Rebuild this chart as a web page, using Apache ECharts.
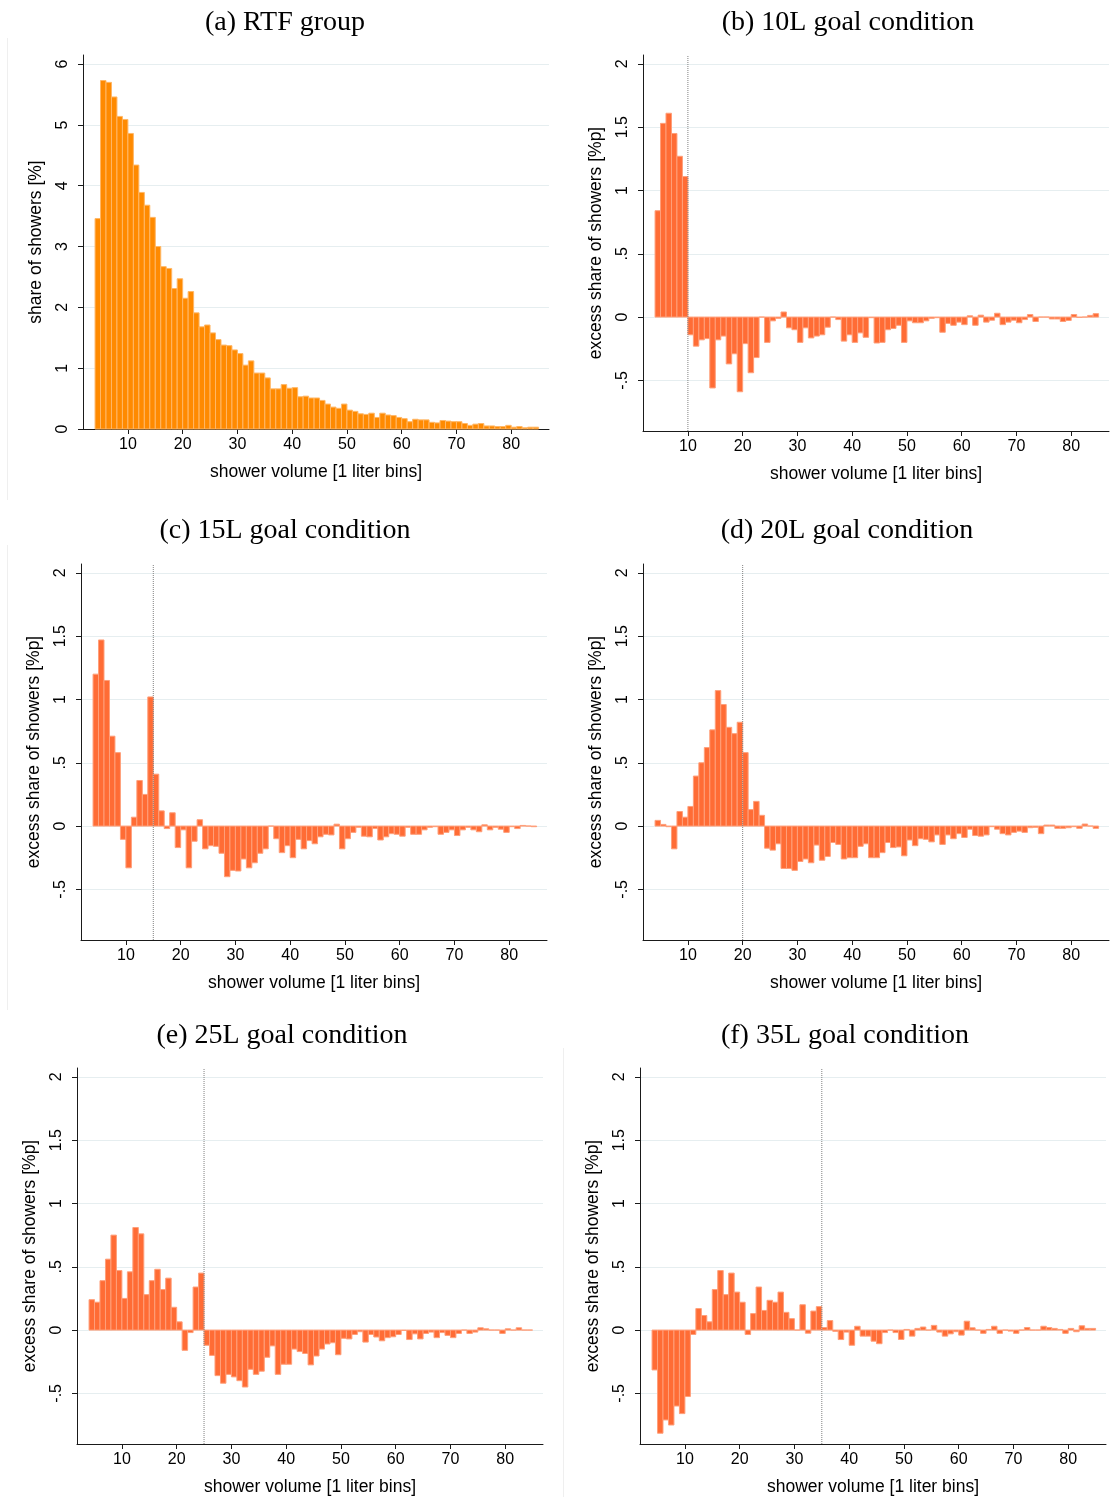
<!DOCTYPE html>
<html>
<head>
<meta charset="utf-8">
<script src="https://cdn.jsdelivr.net/npm/echarts@6/dist/echarts.min.js"></script>
<style>
html,body{margin:0;padding:0;background:#fff;}
#chart{width:1115px;height:1497px;}
</style>
</head>
<body>
<div id="chart"></div>
<script>
// shower volume bins (liters), each bar spans [bin, bin+1]
const bins = [];
for (let b = 4; b <= 84; b++) bins.push(b);

const rtfShare = [3.46,5.73,5.70,5.46,5.14,5.09,4.86,4.34,3.89,3.68,3.48,3.00,2.67,2.64,2.31,2.47,2.15,2.26,1.91,1.68,1.71,1.58,1.47,1.38,1.37,1.30,1.24,1.05,1.12,0.92,0.92,0.84,0.66,0.66,0.73,0.67,0.68,0.53,0.54,0.51,0.51,0.47,0.41,0.36,0.34,0.41,0.31,0.29,0.25,0.24,0.26,0.19,0.26,0.23,0.22,0.19,0.17,0.12,0.16,0.15,0.15,0.11,0.10,0.14,0.13,0.12,0.12,0.09,0.06,0.08,0.09,0.05,0.05,0.04,0.04,0.06,0.03,0.04,0.02,0.03,0.03];

const excess10 = [0.84,1.53,1.61,1.45,1.27,1.11,-0.14,-0.23,-0.18,-0.17,-0.56,-0.18,-0.15,-0.37,-0.29,-0.59,-0.21,-0.44,-0.32,0.0,-0.20,-0.03,-0.01,0.04,-0.085,-0.10,-0.20,-0.085,-0.165,-0.15,-0.14,-0.08,0.0,-0.02,-0.19,-0.14,-0.20,-0.125,-0.16,-0.005,-0.205,-0.20,-0.10,-0.09,-0.065,-0.20,-0.03,-0.045,-0.045,-0.03,-0.01,-0.005,-0.12,-0.05,-0.065,-0.04,-0.06,0.01,-0.065,0.015,-0.04,-0.025,0.03,-0.06,-0.04,-0.025,-0.045,-0.02,0.02,-0.035,0.0,0.0,-0.015,-0.015,-0.035,-0.027,0.02,-0.003,0.0,0.013,0.027];

const excess15 = [1.20,1.47,1.15,0.71,0.58,-0.105,-0.33,0.07,0.36,0.25,1.02,0.41,0.12,-0.02,0.105,-0.17,-0.03,-0.33,-0.12,0.05,-0.18,-0.155,-0.16,-0.215,-0.40,-0.35,-0.355,-0.26,-0.33,-0.29,-0.215,-0.18,0.0,-0.10,-0.21,-0.155,-0.25,-0.105,-0.18,-0.115,-0.14,-0.085,-0.065,-0.07,0.015,-0.18,-0.10,-0.05,-0.01,-0.08,-0.085,-0.02,-0.11,-0.085,-0.06,-0.065,-0.08,-0.01,-0.065,-0.065,-0.03,-0.01,-0.005,-0.065,-0.05,-0.03,-0.075,-0.03,-0.01,-0.03,-0.045,0.01,-0.03,-0.01,-0.025,-0.05,-0.005,-0.02,0.005,0.0,-0.005];

const excess20 = [0.045,0.013,-0.005,-0.18,0.115,0.07,0.155,0.395,0.50,0.62,0.76,1.07,0.96,0.78,0.73,0.82,0.58,0.13,0.195,0.085,-0.175,-0.19,-0.14,-0.335,-0.335,-0.35,-0.28,-0.26,-0.29,-0.15,-0.27,-0.24,-0.13,-0.145,-0.26,-0.25,-0.25,-0.16,-0.14,-0.25,-0.25,-0.21,-0.13,-0.17,-0.165,-0.235,-0.11,-0.155,-0.10,-0.105,-0.125,-0.07,-0.145,-0.07,-0.10,-0.06,-0.09,-0.025,-0.075,-0.08,-0.07,-0.005,-0.025,-0.06,-0.07,-0.05,-0.04,-0.05,-0.013,-0.01,-0.06,0.008,0.008,-0.018,-0.018,-0.013,-0.005,-0.018,0.016,0.0,-0.018];

const excess25 = [0.24,0.22,0.39,0.56,0.75,0.47,0.25,0.46,0.81,0.76,0.28,0.39,0.48,0.32,0.41,0.18,0.065,-0.16,-0.02,0.34,0.45,-0.12,-0.20,-0.36,-0.42,-0.35,-0.37,-0.40,-0.45,-0.31,-0.35,-0.325,-0.215,-0.125,-0.35,-0.27,-0.27,-0.15,-0.17,-0.185,-0.275,-0.205,-0.15,-0.11,-0.10,-0.195,-0.065,-0.07,-0.035,-0.013,-0.095,-0.035,-0.055,-0.085,-0.06,-0.053,-0.035,-0.003,-0.075,-0.03,-0.07,-0.027,-0.016,-0.06,-0.02,-0.042,-0.06,-0.027,0.0,-0.027,-0.016,0.018,0.01,0.0,0.0,-0.027,0.01,0.0,0.018,0.0,0.0];

const excess35 = [-0.315,-0.815,-0.71,-0.75,-0.60,-0.66,-0.525,-0.035,0.17,0.115,0.065,0.32,0.47,0.28,0.45,0.30,0.22,-0.035,0.13,0.34,0.155,0.235,0.22,0.30,0.14,0.09,0.0,0.20,-0.025,0.15,0.185,0.02,0.075,-0.01,-0.075,-0.016,-0.12,0.03,-0.048,-0.048,-0.088,-0.108,-0.02,0.0,-0.02,-0.074,0.005,-0.048,0.013,0.024,0.0,0.037,-0.016,-0.048,-0.03,-0.013,-0.04,0.07,0.018,0.0,-0.026,0.005,0.03,-0.026,0.0,-0.008,-0.026,0.0,0.02,0.0,0.0,0.03,0.02,0.013,0.005,-0.026,0.013,-0.013,0.034,0.013,0.013];

const panelTitles = ['(a) RTF group','(b) 10L goal condition','(c) 15L goal condition','(d) 20L goal condition','(e) 25L goal condition','(f) 35L goal condition'];
const goals = [null, 10, 15, 20, 25, 35];
const xTicks = [10,20,30,40,50,60,70,80];
const yTicksShare = [0,1,2,3,4,5,6];
const yTicksExcess = [-0.5,0,0.5,1,1.5,2];
const yTickLabelsExcess = ['-.5','0','.5','1','1.5','2'];
const xName = 'shower volume [1 liter bins]';
const yNameShare = 'share of showers [%]';
const yNameExcess = 'excess share of showers [%p]';

const panelValues = [rtfShare, excess10, excess15, excess20, excess25, excess35];

// layout
const grids = [
  {left:83, top:55, width:466, height:374},
  {left:643, top:55, width:466, height:376},
  {left:81, top:564, width:466, height:376},
  {left:643, top:564, width:466, height:376},
  {left:77, top:1068, width:466, height:376},
  {left:640, top:1068, width:466, height:376}
];
const titlePos = [[285,9],[848,9],[285,517],[847,517],[282,1022],[845,1022]];
const X_MIN = 1.8, X_MAX = 86.9;
const Y_RANGE_SHARE = [0, 6.15];
const Y_RANGE_EXCESS = [-0.9, 2.07];

const sans = 'Liberation Sans';
const serif = 'Liberation Serif';
const axisColor = '#1a1a1a';
const gridColor = '#e6eef0';

const xAxes = [], yAxes = [], series = [], titles = [];
grids.forEach((g, i) => {
  xAxes.push({
    type:'value', gridIndex:i, min:X_MIN, max:X_MAX,
    name:xName, nameLocation:'middle', nameGap:34,
    nameTextStyle:{fontFamily:sans, fontSize:17.5, color:'#000'},
    axisLine:{show:true, onZero:false, lineStyle:{color:axisColor, width:1}},
    axisTick:{show:true, length:5, customValues:xTicks, lineStyle:{color:axisColor}},
    axisLabel:{customValues:xTicks, fontFamily:sans, fontSize:16, color:'#000', margin:8},
    splitLine:{show:false}
  });
  const isShare = i === 0;
  const yt = isShare ? yTicksShare : yTicksExcess;
  const yr = isShare ? Y_RANGE_SHARE : Y_RANGE_EXCESS;
  yAxes.push({
    type:'value', gridIndex:i, min:yr[0], max:yr[1],
    name: isShare ? yNameShare : yNameExcess,
    nameLocation:'middle', nameRotate:90, nameGap:38,
    nameTextStyle:{fontFamily:sans, fontSize:17.5, color:'#000'},
    axisLine:{show:true, onZero:false, lineStyle:{color:axisColor, width:1}},
    axisTick:{show:true, length:5, customValues:yt, lineStyle:{color:axisColor}},
    axisLabel:{customValues:yt, rotate:90, fontFamily:sans, fontSize:16, color:'#000', margin:12,
      formatter: function(v){ if (isShare) return String(v); const k = yTicksExcess.indexOf(v); return k >= 0 ? yTickLabelsExcess[k] : String(v); }},
    splitLine:{show:true, lineStyle:{color:gridColor, width:1}}
  });
  const fill = isShare ? '#ff8a00' : '#ff6c35';
  const stroke = isShare ? '#ffb766' : '#ff9f7a';
  series.push({
    type:'custom', xAxisIndex:i, yAxisIndex:i,
    data: bins.map((b, k) => [b, panelValues[i][k]]),
    encode:{x:0, y:1},
    renderItem: function(params, api){
      const b = api.value(0), v = api.value(1);
      const p0 = api.coord([b, 0]);
      const p1 = api.coord([b + 1, v]);
      return {
        type:'rect',
        shape:{x:p0[0], y:Math.min(p0[1], p1[1]), width:p1[0]-p0[0], height:Math.abs(p1[1]-p0[1])},
        style:{fill:fill, stroke:stroke, lineWidth:1}
      };
    },
    silent:true, animation:false
  });
  if (goals[i] !== null) {
    series.push({
      type:'line', xAxisIndex:i, yAxisIndex:i,
      data:[[goals[i], yr[0]], [goals[i], yr[1]]],
      symbol:'none', lineStyle:{type:'dotted', color:'#808080', width:1},
      silent:true, animation:false, z:5
    });
  }
  titles.push({
    text: panelTitles[i], left: titlePos[i][0], top: titlePos[i][1], textAlign:'center', padding:0,
    textStyle:{fontFamily:serif, fontSize:28, fontWeight:'normal', color:'#000'}
  });
});

const chart = echarts.init(document.getElementById('chart'), null, {renderer:'canvas'});
chart.setOption({
  backgroundColor:'#fff',
  animation:false,
  title: titles,
  grid: grids.map(g => Object.assign({containLabel:false}, g)),
  xAxis: xAxes,
  yAxis: yAxes,
  series: series,
  graphic: [
    {type:'line', shape:{x1:7.5, y1:38, x2:7.5, y2:500}, style:{stroke:'#efefef', lineWidth:1}, silent:true},
    {type:'line', shape:{x1:7.5, y1:545, x2:7.5, y2:1010}, style:{stroke:'#efefef', lineWidth:1}, silent:true},
    {type:'line', shape:{x1:563.5, y1:1048, x2:563.5, y2:1497}, style:{stroke:'#efefef', lineWidth:1}, silent:true}
  ]
});
</script>
</body>
</html>
